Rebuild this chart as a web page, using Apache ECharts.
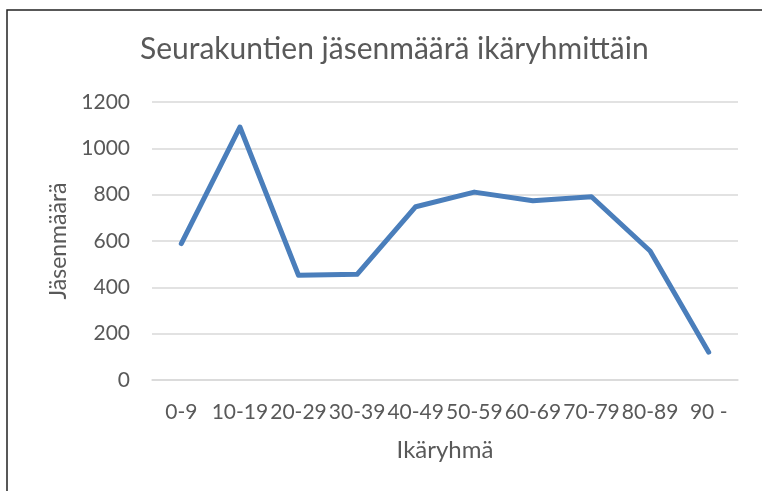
<!DOCTYPE html>
<html>
<head>
<meta charset="UTF-8">
<title></title>
<style>
  html, body { margin: 0; padding: 0; background: #fff; }
  #main { width: 762px; height: 491px; }
</style>
</head>
<body>
<div id="main"></div>
<script src="https://cdn.jsdelivr.net/npm/echarts@6/dist/echarts.min.js"></script>
<script>
var ageGroups = ['0-9', '10-19', '20-29', '30-39', '40-49', '50-59', '60-69', '70-79', '80-89', '90 -'];
var members = [589, 1092, 452, 456, 748, 811, 774, 791, 557, 120];
var yTicks = [0, 200, 400, 600, 800, 1000, 1200];

var labelFont = 'Lato';
var gray = '#595959';

var chart = echarts.init(document.getElementById('main'));
chart.setOption({
    animation: false,
    title: {
        text: 'Seurakuntien jäsenmäärä ikäryhmittäin',
        left: 135,
        top: 29,
        textStyle: { fontFamily: labelFont, fontSize: 30, fontWeight: 'normal', color: gray }
    },
    graphic: [{
        type: 'polyline',
        shape: { points: [[7, 491], [7, 10], [762, 10]] },
        style: { stroke: '#222', lineWidth: 1.5, fill: null }
    }],
    grid: { left: 152, right: 24, top: 102, bottom: 111 },
    xAxis: {
        type: 'category',
        data: ageGroups,
        boundaryGap: true,
        name: 'Ikäryhmä',
        nameLocation: 'middle',
        nameGap: 58,
        nameTextStyle: { fontFamily: labelFont, fontSize: 24, color: gray },
        axisLine: { show: true, lineStyle: { color: '#d9d9d9', width: 1.5 } },
        axisTick: { show: false },
        axisLabel: { fontFamily: labelFont, fontSize: 21, color: gray, margin: 22, interval: 0 }
    },
    yAxis: {
        type: 'value',
        min: yTicks[0],
        max: yTicks[yTicks.length - 1],
        interval: 200,
        name: 'Jäsenmäärä',
        nameLocation: 'middle',
        nameGap: 80,
        nameTextStyle: { fontFamily: labelFont, fontSize: 23, color: gray },
        axisLine: { show: false },
        axisTick: { show: false },
        axisLabel: {
            fontFamily: labelFont, fontSize: 21, color: gray, margin: 22,
            formatter: function (v) { return String(v); }
        },
        splitLine: { lineStyle: { color: '#d9d9d9', width: 1.5 } }
    },
    series: [{
        type: 'line',
        data: members,
        symbol: 'none',
        lineStyle: { color: '#4a7ebb', width: 5, cap: 'round', join: 'round' }
    }]
});
</script>
</body>
</html>
